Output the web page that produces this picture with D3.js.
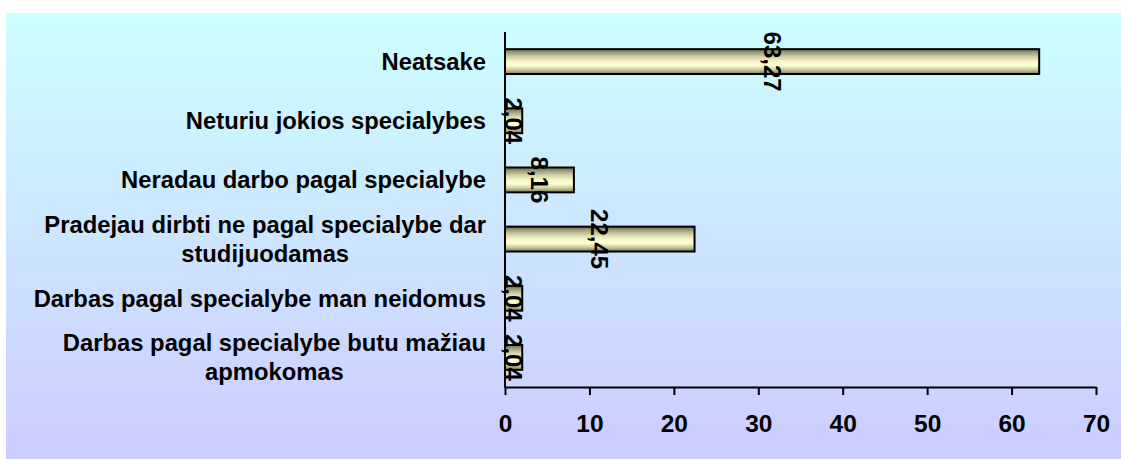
<!DOCTYPE html>
<html>
<head>
<meta charset="utf-8">
<script src="https://cdn.jsdelivr.net/npm/d3@7"></script>
<style>
  html, body { margin: 0; padding: 0; background: #ffffff; }
  svg { display: block; }
  text { font-family: Arial, "Liberation Sans", sans-serif; font-weight: bold; fill: #000; }
</style>
</head>
<body>
<svg id="chart" width="1121" height="459"></svg>
<script>
// Reasons given for not working in the studied specialty (%)
const categories = [
  ["Neatsake"],
  ["Neturiu jokios specialybes"],
  ["Neradau darbo pagal specialybe"],
  ["Pradejau dirbti ne pagal specialybe dar", "studijuodamas"],
  ["Darbas pagal specialybe man neidomus"],
  ["Darbas pagal specialybe butu mažiau", "apmokomas"]
];
const values = [63.27, 2.04, 8.16, 22.45, 2.04, 2.04];
const xTicks = [0, 10, 20, 30, 40, 50, 60, 70];

const svg = d3.select("#chart");
const W = 1121, H = 459;

const defs = svg.append("defs");
const bg = defs.append("linearGradient").attr("id", "bgGrad")
  .attr("x1", 0).attr("y1", 0).attr("x2", 0).attr("y2", 1);
bg.append("stop").attr("offset", "0%").attr("stop-color", "#ccffff");
bg.append("stop").attr("offset", "100%").attr("stop-color", "#ccccff");

const barGrad = defs.append("linearGradient").attr("id", "barGrad")
  .attr("x1", 0).attr("y1", 0).attr("x2", 0).attr("y2", 1);
[[0, "#6e6e50"], [0.14, "#9c9c7a"], [0.3, "#cfcfa6"], [0.5, "#f6f6c8"],
 [0.66, "#ffffd2"], [0.82, "#cdcda4"], [1, "#7a7a5c"]]
  .forEach(([o, c]) => barGrad.append("stop").attr("offset", o).attr("stop-color", c));

// plot area backdrop
svg.append("rect").attr("x", 6).attr("y", 13).attr("width", W - 6).attr("height", H - 13)
  .attr("fill", "url(#bgGrad)");

const x0 = 505, x1 = 1096, yTop = 32, yBot = 387;
const x = d3.scaleLinear().domain([0, 70]).range([x0, x1]);
const y = d3.scaleBand().domain(d3.range(categories.length)).range([yTop, yBot])
  .paddingInner(0.58).paddingOuter(0.29);

// bars
svg.append("g").selectAll("rect").data(values).join("rect")
  .attr("x", x(0))
  .attr("y", (d, i) => y(i))
  .attr("width", d => x(d) - x(0))
  .attr("height", y.bandwidth())
  .attr("fill", "url(#barGrad)")
  .attr("stroke", "#000")
  .attr("stroke-width", 2);

// value axis
const xAxis = svg.append("g").attr("transform", `translate(0,${yBot})`)
  .call(d3.axisBottom(x).tickValues(xTicks).tickSize(8).tickSizeOuter(0).tickFormat(d3.format("d")));
xAxis.select(".domain").attr("stroke", "#000").attr("stroke-width", 2);
xAxis.selectAll(".tick line").attr("stroke", "#000").attr("stroke-width", 2);
xAxis.selectAll(".tick text")
  .attr("y", 36).attr("dy", "0.35em")
  .style("font-size", "24.5px").style("font-family", "Arial, 'Liberation Sans', sans-serif")
  .style("font-weight", "bold").attr("fill", "#000");

// category axis line
svg.append("line").attr("x1", x0).attr("x2", x0).attr("y1", yTop).attr("y2", yBot + 1)
  .attr("stroke", "#000").attr("stroke-width", 2);

// category labels
const labelRight = 486, lineGap = 29;
categories.forEach((lines, i) => {
  const cy = y(i) + y.bandwidth() / 2;
  const startY = cy - (lines.length - 1) * lineGap / 2;
  const first = svg.append("text")
    .attr("x", labelRight).attr("y", startY).attr("dy", "0.35em")
    .attr("text-anchor", "end").style("font-size", "23.8px").text(lines[0]);
  const w = first.node().getComputedTextLength();
  for (let k = 1; k < lines.length; k++) {
    svg.append("text")
      .attr("x", labelRight - w / 2).attr("y", startY + k * lineGap).attr("dy", "0.35em")
      .attr("text-anchor", "middle").style("font-size", "23.8px").text(lines[k]);
  }
});

// value labels, rotated, centred on each bar
const fmt = d => d3.format(".2f")(d).replace(".", ",");
svg.append("g").selectAll("text").data(values).join("text")
  .attr("transform", (d, i) => `translate(${(x(0) + x(d)) / 2},${y(i) + y.bandwidth() / 2}) rotate(90)`)
  .attr("text-anchor", "middle").attr("dy", "0.35em")
  .style("font-size", "24px")
  .text(fmt);
</script>
</body>
</html>
